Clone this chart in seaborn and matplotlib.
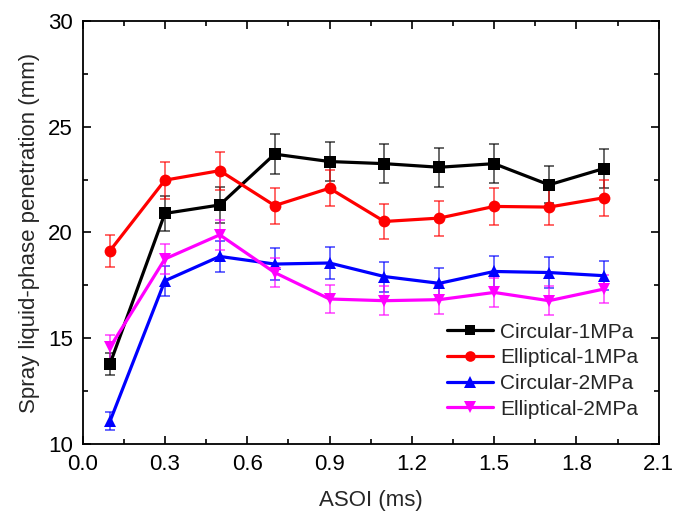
import numpy as np
import pandas as pd
import matplotlib
matplotlib.use("Agg")
import matplotlib.pyplot as plt
import seaborn as sns
from matplotlib.ticker import MultipleLocator, FormatStrFormatter

asoi = [0.1, 0.3, 0.5, 0.7, 0.9, 1.1, 1.3, 1.5, 1.7, 1.9]
series_names = ["Circular-1MPa", "Elliptical-1MPa", "Circular-2MPa", "Elliptical-2MPa"]
circ_1 = [13.8, 20.9, 21.3, 23.7, 23.35, 23.25, 23.08, 23.25, 22.25, 23.02]
circ_1_err = [0.53, 0.82, 0.87, 0.93, 0.94, 0.93, 0.92, 0.93, 0.87, 0.92]
ell_1 = [19.14, 22.47, 22.92, 21.27, 22.09, 20.52, 20.68, 21.23, 21.2, 21.64]
ell_1_err = [0.75, 0.88, 0.9, 0.85, 0.86, 0.82, 0.83, 0.86, 0.85, 0.86]
circ_2 = [11.09, 17.72, 18.87, 18.51, 18.56, 17.92, 17.6, 18.16, 18.11, 17.96]
circ_2_err = [0.42, 0.71, 0.74, 0.74, 0.75, 0.71, 0.72, 0.72, 0.73, 0.69]
ell_2 = [14.58, 18.75, 19.89, 18.11, 16.86, 16.78, 16.83, 17.17, 16.78, 17.33]
ell_2_err = [0.57, 0.7, 0.7, 0.7, 0.67, 0.68, 0.68, 0.67, 0.68, 0.68]

values = [circ_1, ell_1, circ_2, ell_2]
errors = [circ_1_err, ell_1_err, circ_2_err, ell_2_err]
colors = ["#000000", "#FF0000", "#0000FF", "#FF00FF"]
markers = ["s", "o", "^", "v"]
msizes = [7.5, 8.5, 9, 9]

rows = []
for name, vals, errs in zip(series_names, values, errors):
    for x, v, e in zip(asoi, vals, errs):
        rows.append({"ASOI": x, "Penetration": v, "Err": e, "Series": name})
df = pd.DataFrame(rows)

sns.set_theme(style="ticks")
plt.rcParams["font.family"] = ["Liberation Sans", "DejaVu Sans"]

fig = plt.figure(figsize=(6.73, 5.17), dpi=100)
ax = fig.add_axes([0.1227, 0.1406, 0.8561, 0.8194])

for name, c in zip(series_names, colors):
    sub = df[df["Series"] == name]
    ax.errorbar(sub["ASOI"], sub["Penetration"], yerr=sub["Err"], fmt="none",
                ecolor=c, elinewidth=1.1, capsize=3.3, capthick=1.1, alpha=0.75, zorder=2)

sns.lineplot(data=df, x="ASOI", y="Penetration", hue="Series", style="Series",
             hue_order=series_names, style_order=series_names,
             palette=colors, markers=markers, dashes=False, ax=ax,
             linewidth=2.3, markersize=8.5, markeredgewidth=0, zorder=3, legend=True)

ax.set_xlim(0, 2.1)
ax.set_ylim(10, 30)
ax.xaxis.set_major_locator(MultipleLocator(0.3))
ax.xaxis.set_minor_locator(MultipleLocator(0.15))
ax.yaxis.set_major_locator(MultipleLocator(5))
ax.yaxis.set_minor_locator(MultipleLocator(2.5))
ax.xaxis.set_major_formatter(FormatStrFormatter("%.1f"))
ax.tick_params(which="both", direction="in", top=True, right=True, labelsize=16,
               colors="black", width=1.2, pad=7)
ax.tick_params(which="major", length=6)
ax.tick_params(which="minor", length=3.5)
for s in ax.spines.values():
    s.set_visible(True)
    s.set_linewidth(1.3)
    s.set_color("black")

ax.set_xlabel("ASOI (ms)", fontsize=16, labelpad=11)
ax.set_ylabel("Spray liquid-phase penetration (mm)", fontsize=16, labelpad=6)

handles, labels = ax.get_legend_handles_labels()
for h, ms in zip(handles, msizes):
    h.set_markersize(ms * 0.9)
    h.set_linewidth(2.3)
ax.legend(handles, labels, loc="upper left", bbox_to_anchor=(0.632, 0.287),
          frameon=False, fontsize=15, handlelength=2.2, handletextpad=0.35,
          labelspacing=0.32, borderpad=0, borderaxespad=0)

fig.savefig("out.png", dpi=100)
